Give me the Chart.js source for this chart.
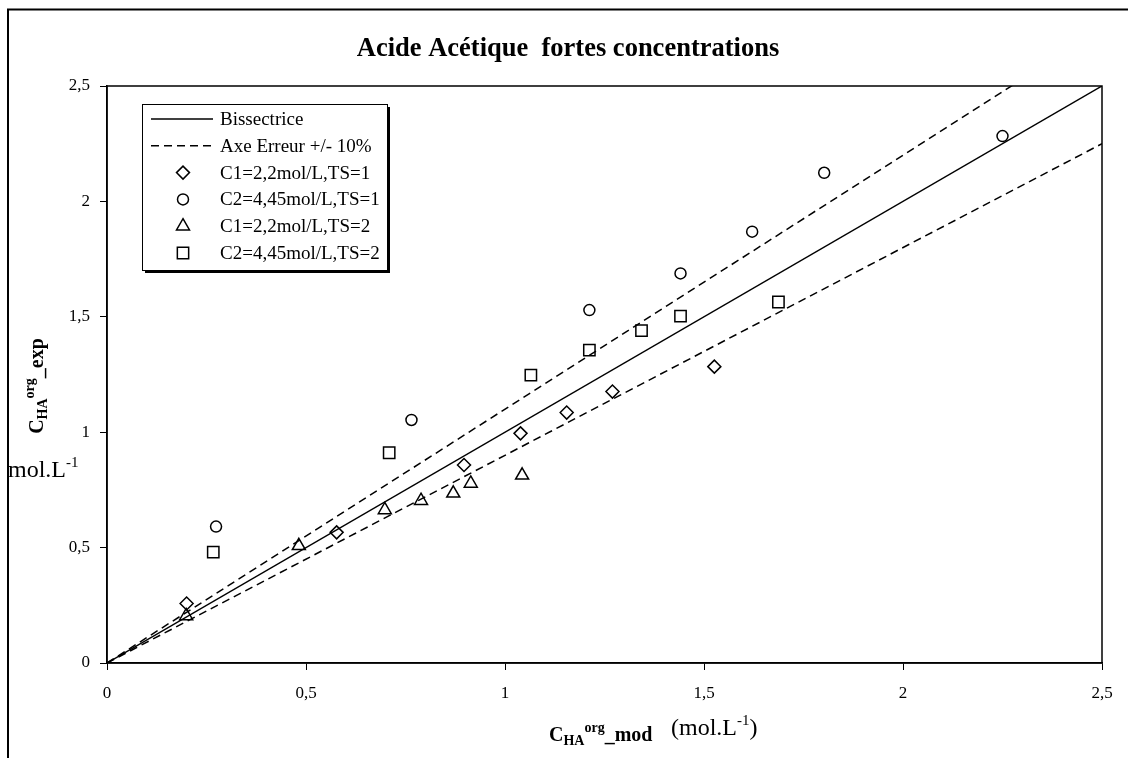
<!DOCTYPE html>
<html>
<head>
<meta charset="utf-8">
<script src="https://cdn.jsdelivr.net/npm/chart.js@4.4.0/dist/chart.umd.min.js"></script>
<style>
  html, body { margin: 0; padding: 0; background: #fff; }
  #wrap { width: 1128px; height: 758px; position: relative; }
</style>
</head>
<body>
<div id="wrap"><canvas id="chart"></canvas></div>
<script>
// ---------------------------
// Données
// ---------------------------
const axisTicks = [0, 0.5, 1, 1.5, 2, 2.5];

const refLineX = [0, 2.5];
const bissectriceY = [0, 2.5];
const erreurHautY = [0, 2.75];
const erreurBasY = [0, 2.25];

const c1ts1X = [0.200, 0.577, 0.897, 1.039, 1.155, 1.270, 1.526];
const c1ts1Y = [0.258, 0.566, 0.858, 0.995, 1.085, 1.176, 1.284];

const c2ts1X = [0.274, 0.765, 1.212, 1.441, 1.621, 1.802, 2.250];
const c2ts1Y = [0.591, 1.053, 1.529, 1.688, 1.869, 2.124, 2.283];

const c1ts2X = [0.199, 0.482, 0.698, 0.789, 0.870, 0.914, 1.043];
const c1ts2Y = [0.204, 0.508, 0.663, 0.703, 0.735, 0.778, 0.813];

const c2ts2X = [0.267, 0.709, 1.065, 1.212, 1.343, 1.441, 1.687];
const c2ts2Y = [0.480, 0.911, 1.247, 1.356, 1.440, 1.503, 1.564];

const titre = "Acide Acétique  fortes concentrations";
const serif = "'Liberation Serif', 'Times New Roman', serif";

// ---------------------------
// Helpers
// ---------------------------
function toPoints(xs, ys) {
    return xs.map((x, i) => ({ x: x, y: ys[i] }));
}

function formatVirgule(v) {
    return String(v).replace(".", ",");
}

// dessine un texte composé (indices / exposants)
function drawRich(ctx, parts, x, y, align) {
    let total = 0;
    parts.forEach(p => {
        ctx.font = p.font;
        p.w = ctx.measureText(p.t).width;
        total += p.w;
    });
    let cx = align === "center" ? x - total / 2 : x;
    ctx.textAlign = "left";
    ctx.textBaseline = "alphabetic";
    parts.forEach(p => {
        ctx.font = p.font;
        ctx.fillText(p.t, cx, y + (p.dy || 0));
        cx += p.w;
    });
}

function lineDataset(label, ys, dash) {
    return {
        label: label,
        data: toPoints(refLineX, ys),
        showLine: true,
        borderColor: "#000",
        borderWidth: 1.5,
        borderDash: dash,
        pointRadius: 0,
        fill: false
    };
}

function markerDataset(label, xs, ys, style, radius) {
    return {
        label: label,
        data: toPoints(xs, ys),
        showLine: false,
        pointStyle: style,
        pointRadius: radius,
        pointBorderColor: "#000",
        pointBackgroundColor: "rgba(0,0,0,0)",
        pointBorderWidth: 1.5
    };
}

// ---------------------------
// Plugin décor
// ---------------------------
const decorPlugin = {
    id: "decor",
    beforeDraw(chart) {
        const ctx = chart.ctx;
        ctx.save();
        ctx.fillStyle = "#fff";
        ctx.fillRect(0, 0, chart.width, chart.height);
        ctx.strokeStyle = "#000";
        ctx.lineWidth = 2;
        ctx.strokeRect(8, 9.5, 1300, 900);
        ctx.restore();
    },
    afterDraw(chart) {
        const ctx = chart.ctx;
        const area = chart.chartArea;
        ctx.save();

        // cadre de la zone de tracé
        ctx.strokeStyle = "#000";
        ctx.lineWidth = 1.5;
        ctx.strokeRect(area.left, area.top, area.right - area.left, area.bottom - area.top);

        ctx.fillStyle = "#000";

        // titre
        ctx.font = "bold 26.5px " + serif;
        ctx.textAlign = "center";
        ctx.textBaseline = "alphabetic";
        ctx.fillText(titre, 568, 56);

        // titre axe X
        drawRich(ctx, [
            { t: "C", font: "bold 20px " + serif },
            { t: "HA", font: "bold 14px " + serif, dy: 4 },
            { t: "org", font: "bold 14px " + serif, dy: -9 },
            { t: "_mod", font: "bold 20px " + serif }
        ], 549, 741, "left");
        drawRich(ctx, [
            { t: "(mol.L", font: "24px " + serif },
            { t: "-1", font: "15px " + serif, dy: -10 },
            { t: ")", font: "24px " + serif }
        ], 671, 735, "left");

        // titre axe Y (vertical)
        ctx.save();
        ctx.translate(43, 386);
        ctx.rotate(-Math.PI / 2);
        drawRich(ctx, [
            { t: "C", font: "bold 20px " + serif },
            { t: "HA", font: "bold 14px " + serif, dy: 4 },
            { t: "org", font: "bold 14px " + serif, dy: -9 },
            { t: "_exp", font: "bold 20px " + serif }
        ], 0, 0, "center");
        ctx.restore();

        drawRich(ctx, [
            { t: "mol.L", font: "24px " + serif },
            { t: "-1", font: "15px " + serif, dy: -10 }
        ], 8, 477, "left");

        // légende
        const lx = 142, ly = 104, lw = 245, lh = 166;
        ctx.fillStyle = "#000";
        ctx.fillRect(lx + 3, ly + 3, lw, lh);
        ctx.fillStyle = "#fff";
        ctx.fillRect(lx, ly, lw, lh);
        ctx.lineWidth = 1;
        ctx.strokeStyle = "#000";
        ctx.strokeRect(lx + 0.5, ly + 0.5, lw, lh);

        const items = chart.data.datasets.filter(d => !d.hideInLegend);
        items.forEach((d, i) => {
            const y = 119 + i * 26.8;
            if (d.showLine) {
                ctx.save();
                ctx.lineWidth = 1.5;
                ctx.setLineDash(d.borderDash || []);
                ctx.beginPath();
                ctx.moveTo(151, y);
                ctx.lineTo(213, y);
                ctx.stroke();
                ctx.restore();
            } else {
                ctx.lineWidth = 1.5;
                ctx.strokeStyle = "#000";
                ctx.fillStyle = "rgba(0,0,0,0)";
                Chart.helpers.drawPoint(ctx, {
                    pointStyle: d.pointStyle,
                    radius: d.pointRadius,
                    borderWidth: 1.5,
                    rotation: 0
                }, 183, y);
            }
            ctx.fillStyle = "#000";
            ctx.font = "19px " + serif;
            ctx.textAlign = "left";
            ctx.textBaseline = "middle";
            ctx.fillText(d.label, 220, y + 1);
        });

        ctx.restore();
    }
};

// ---------------------------
// Chart
// ---------------------------
const erreurBas = lineDataset("Axe Erreur +/- 10%", erreurBasY, [8, 5]);
erreurBas.hideInLegend = true;

const chart = new Chart(document.getElementById("chart").getContext("2d"), {
    type: "scatter",
    data: {
        datasets: [
            lineDataset("Bissectrice", bissectriceY, []),
            lineDataset("Axe Erreur +/- 10%", erreurHautY, [8, 5]),
            erreurBas,
            markerDataset("C1=2,2mol/L,TS=1", c1ts1X, c1ts1Y, "rectRot", 6.5),
            markerDataset("C2=4,45mol/L,TS=1", c2ts1X, c2ts1Y, "circle", 5.5),
            markerDataset("C1=2,2mol/L,TS=2", c1ts2X, c1ts2Y, "triangle", 7.5),
            markerDataset("C2=4,45mol/L,TS=2", c2ts2X, c2ts2Y, "rect", 8)
        ]
    },
    options: {
        responsive: true,
        maintainAspectRatio: false,
        animation: false,
        events: [],
        layout: {
            padding: { top: 86, right: 26, left: 0, bottom: 0 }
        },
        plugins: {
            legend: { display: false },
            title: { display: false },
            tooltip: { enabled: false }
        },
        scales: {
            x: {
                type: "linear",
                min: 0,
                max: 2.5,
                afterFit(scale) { scale.height = 95; },
                afterBuildTicks(scale) { scale.ticks = axisTicks.map(v => ({ value: v })); },
                border: { color: "#000", width: 1.5 },
                grid: { drawOnChartArea: false, tickLength: 7, color: "#000", lineWidth: 1 },
                ticks: {
                    padding: 13,
                    color: "#000",
                    font: { family: serif, size: 17 },
                    callback: v => formatVirgule(v)
                }
            },
            y: {
                type: "linear",
                min: 0,
                max: 2.5,
                afterFit(scale) { scale.width = 107; },
                afterBuildTicks(scale) { scale.ticks = axisTicks.map(v => ({ value: v })); },
                border: { color: "#000", width: 1.5 },
                grid: { drawOnChartArea: false, tickLength: 7, color: "#000", lineWidth: 1 },
                ticks: {
                    padding: 10,
                    color: "#000",
                    font: { family: serif, size: 17 },
                    callback: v => formatVirgule(v)
                }
            }
        }
    },
    plugins: [decorPlugin]
});
</script>
</body>
</html>
